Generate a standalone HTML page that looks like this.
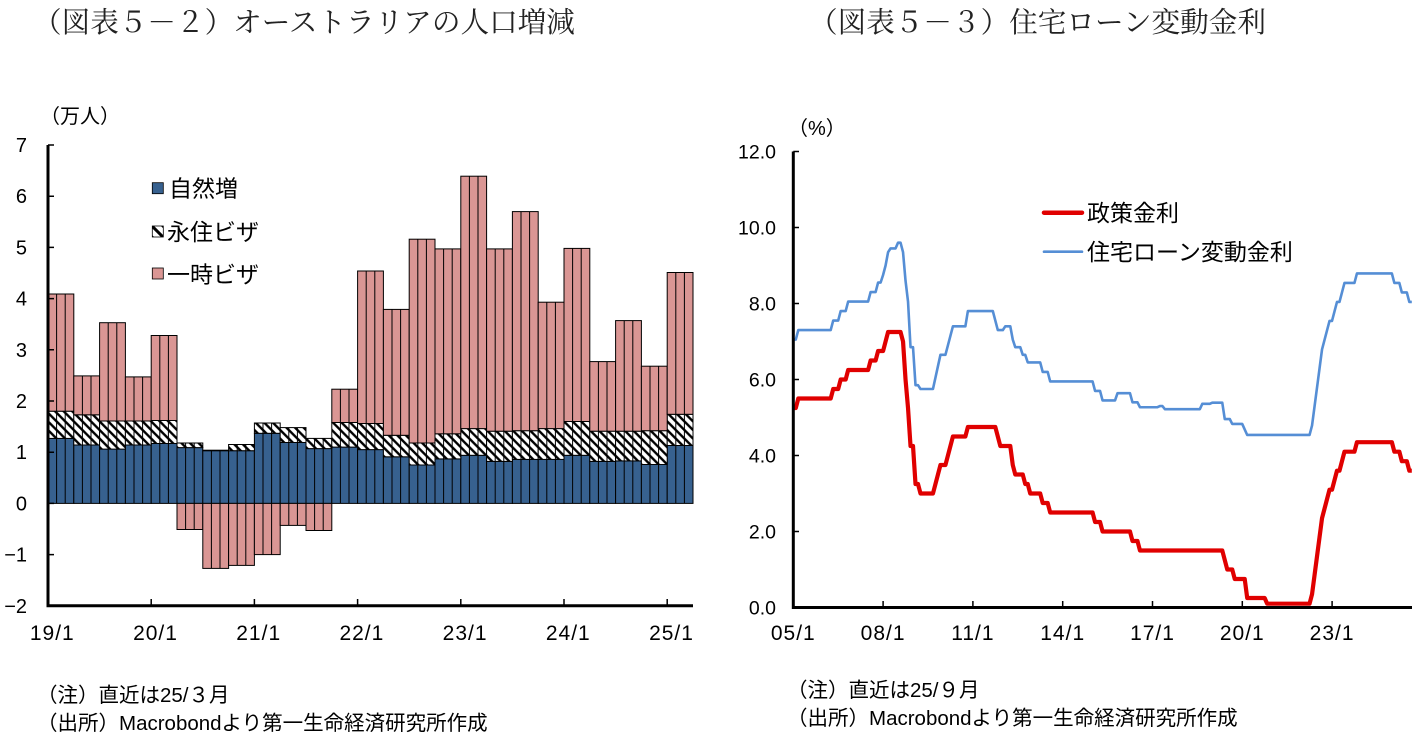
<!DOCTYPE html>
<html><head><meta charset="utf-8"><style>
html,body{margin:0;padding:0;background:#fff;}
svg{display:block;}
.jp{font-family:"Liberation Sans","Noto Sans CJK JP",sans-serif;}
.num{font-family:"Liberation Sans",sans-serif;}
.ttl{font-family:"Liberation Serif","Noto Serif CJK SC",serif;}
</style></head><body>
<svg width="1417" height="737" viewBox="0 0 1417 737" xmlns="http://www.w3.org/2000/svg">
<defs>
<pattern id="hatch" patternUnits="userSpaceOnUse" x="48" y="0" width="8.6" height="8.6">
<rect width="8.6" height="8.6" fill="#fff"/>
<path d="M-2,-2 L10.6,10.6 M-2,6.6 L2,10.6 M6.6,-2 L10.6,2" stroke="#000" stroke-width="2.4"/>
</pattern>
<pattern id="hatch2" patternUnits="userSpaceOnUse" x="152" y="226" width="11" height="11">
<rect width="11" height="11" fill="#fff"/>
<path d="M-2,-2 L13,13 M-2,9 L2,13 M9,-2 L13,2" stroke="#000" stroke-width="3"/>
</pattern>
</defs>

<!-- Titles -->
<text class="ttl" x="33" y="32" font-size="28.6" fill="#222">（図表５－２）オーストラリアの人口増減</text>
<text class="ttl" x="809" y="32" font-size="28.6" fill="#222">（図表５－３）住宅ローン変動金利</text>

<!-- LEFT CHART -->
<text class="jp" x="40" y="123" font-size="20" fill="#000">（万人）</text>

<g stroke="#000" stroke-width="1">
<g fill="#37618F">
<rect x="48" y="438.4" width="25.8" height="65.0"/>
<rect x="73.8" y="445.0" width="25.8" height="58.4"/>
<rect x="99.6" y="449.1" width="25.8" height="54.3"/>
<rect x="125.4" y="445.0" width="25.8" height="58.4"/>
<rect x="151.2" y="443.5" width="25.8" height="59.9"/>
<rect x="177" y="447.6" width="25.8" height="55.8"/>
<rect x="202.8" y="450.7" width="25.8" height="52.7"/>
<rect x="228.6" y="450.7" width="25.8" height="52.7"/>
<rect x="254.4" y="433.3" width="25.8" height="70.1"/>
<rect x="280.2" y="442.5" width="25.8" height="60.9"/>
<rect x="306" y="448.6" width="25.8" height="54.8"/>
<rect x="331.8" y="447.1" width="25.8" height="56.3"/>
<rect x="357.6" y="449.6" width="25.8" height="53.8"/>
<rect x="383.4" y="456.8" width="25.8" height="46.6"/>
<rect x="409.2" y="465.0" width="25.8" height="38.4"/>
<rect x="435" y="458.9" width="25.8" height="44.5"/>
<rect x="460.8" y="455.3" width="25.8" height="48.1"/>
<rect x="486.6" y="461.4" width="25.8" height="42.0"/>
<rect x="512.4" y="459.4" width="25.8" height="44.0"/>
<rect x="538.2" y="459.4" width="25.8" height="44.0"/>
<rect x="564" y="455.3" width="25.8" height="48.1"/>
<rect x="589.8" y="461.4" width="25.8" height="42.0"/>
<rect x="615.6" y="460.9" width="25.8" height="42.5"/>
<rect x="641.4" y="464.5" width="25.8" height="38.9"/>
<rect x="667.2" y="445.5" width="25.8" height="57.9"/>
</g>
<g fill="url(#hatch)">
<rect x="48" y="411.2" width="25.8" height="27.2"/>
<rect x="73.8" y="414.8" width="25.8" height="30.2"/>
<rect x="99.6" y="421.0" width="25.8" height="28.1"/>
<rect x="125.4" y="421.0" width="25.8" height="24.0"/>
<rect x="151.2" y="420.5" width="25.8" height="23.0"/>
<rect x="177" y="443.0" width="25.8" height="4.6"/>
<rect x="202.8" y="450.2" width="25.8" height="0.5"/>
<rect x="228.6" y="444.5" width="25.8" height="6.2"/>
<rect x="254.4" y="423.0" width="25.8" height="10.3"/>
<rect x="280.2" y="427.6" width="25.8" height="14.9"/>
<rect x="306" y="438.4" width="25.8" height="10.2"/>
<rect x="331.8" y="422.5" width="25.8" height="24.6"/>
<rect x="357.6" y="423.5" width="25.8" height="26.1"/>
<rect x="383.4" y="435.3" width="25.8" height="21.5"/>
<rect x="409.2" y="443.0" width="25.8" height="22.0"/>
<rect x="435" y="433.8" width="25.8" height="25.1"/>
<rect x="460.8" y="428.6" width="25.8" height="26.7"/>
<rect x="486.6" y="431.2" width="25.8" height="30.2"/>
<rect x="512.4" y="430.7" width="25.8" height="28.7"/>
<rect x="538.2" y="428.6" width="25.8" height="30.8"/>
<rect x="564" y="421.5" width="25.8" height="33.8"/>
<rect x="589.8" y="431.2" width="25.8" height="30.2"/>
<rect x="615.6" y="431.2" width="25.8" height="29.7"/>
<rect x="641.4" y="430.7" width="25.8" height="33.8"/>
<rect x="667.2" y="414.3" width="25.8" height="31.2"/>
</g>
<g fill="#DA9694">
<rect x="48" y="294.0" width="25.8" height="117.2"/>
<rect x="73.8" y="375.9" width="25.8" height="38.9"/>
<rect x="99.6" y="322.7" width="25.8" height="98.3"/>
<rect x="125.4" y="376.9" width="25.8" height="44.1"/>
<rect x="151.2" y="335.5" width="25.8" height="85.0"/>
<rect x="177" y="503.4" width="25.8" height="26.1"/>
<rect x="202.8" y="503.4" width="25.8" height="65.0"/>
<rect x="228.6" y="503.4" width="25.8" height="62.0"/>
<rect x="254.4" y="503.4" width="25.8" height="51.2"/>
<rect x="280.2" y="503.4" width="25.8" height="22.0"/>
<rect x="306" y="503.4" width="25.8" height="27.1"/>
<rect x="331.8" y="389.2" width="25.8" height="33.3"/>
<rect x="357.6" y="271.0" width="25.8" height="152.5"/>
<rect x="383.4" y="309.4" width="25.8" height="125.9"/>
<rect x="409.2" y="239.2" width="25.8" height="203.8"/>
<rect x="435" y="248.9" width="25.8" height="184.9"/>
<rect x="460.8" y="176.2" width="25.8" height="252.4"/>
<rect x="486.6" y="248.9" width="25.8" height="182.3"/>
<rect x="512.4" y="211.6" width="25.8" height="219.1"/>
<rect x="538.2" y="302.2" width="25.8" height="126.4"/>
<rect x="564" y="248.4" width="25.8" height="173.1"/>
<rect x="589.8" y="361.6" width="25.8" height="69.6"/>
<rect x="615.6" y="320.6" width="25.8" height="110.6"/>
<rect x="641.4" y="366.2" width="25.8" height="64.5"/>
<rect x="667.2" y="272.5" width="25.8" height="141.8"/>
</g>
<path fill="none" d="M56.6 294V503.4M65.2 294V503.4M82.4 375.9V503.4M91 375.9V503.4M108.2 322.7V503.4M116.8 322.7V503.4M134 376.9V503.4M142.6 376.9V503.4M159.8 335.5V503.4M168.4 335.5V503.4M185.6 443V529.5M194.2 443V529.5M211.4 450.2V568.4M220 450.2V568.4M237.2 444.5V565.4M245.8 444.5V565.4M263 423V554.6M271.6 423V554.6M288.8 427.6V525.4M297.4 427.6V525.4M314.6 438.4V530.5M323.2 438.4V530.5M340.4 389.2V503.4M349 389.2V503.4M366.2 271V503.4M374.8 271V503.4M392 309.4V503.4M400.6 309.4V503.4M417.8 239.2V503.4M426.4 239.2V503.4M443.6 248.9V503.4M452.2 248.9V503.4M469.4 176.2V503.4M478 176.2V503.4M495.2 248.9V503.4M503.8 248.9V503.4M521 211.6V503.4M529.6 211.6V503.4M546.8 302.2V503.4M555.4 302.2V503.4M572.6 248.4V503.4M581.2 248.4V503.4M598.4 361.6V503.4M607 361.6V503.4M624.2 320.6V503.4M632.8 320.6V503.4M650 366.2V503.4M658.6 366.2V503.4M675.8 272.5V503.4M684.4 272.5V503.4"/>
</g>

<g stroke="#000" fill="none">
<path d="M48 145V605.8H693" stroke-width="3"/>
<path stroke-width="1.5" d="M48 145H54M48 196.2H54M48 247.4H54M48 298.6H54M48 349.8H54M48 401H54M48 452.2H54M48 503.4H54M48 554.6H54M151.2 605.8V599M254.4 605.8V599M357.6 605.8V599M460.8 605.8V599M564 605.8V599M667.2 605.8V599"/>
</g>
<g class="num" font-size="20" fill="#000" text-anchor="end">
<text x="27" y="152">7</text>
<text x="27" y="203.2">6</text>
<text x="27" y="254.4">5</text>
<text x="27" y="305.6">4</text>
<text x="27" y="356.8">3</text>
<text x="27" y="408">2</text>
<text x="27" y="459.2">1</text>
<text x="27" y="510.4">0</text>
<text x="27" y="561.6">−1</text>
<text x="27" y="612.8">−2</text>
</g>
<g class="num" font-size="21" fill="#000" text-anchor="middle" letter-spacing="1">
<text x="52.3" y="640">19/1</text>
<text x="155.5" y="640">20/1</text>
<text x="258.7" y="640">21/1</text>
<text x="361.9" y="640">22/1</text>
<text x="465.1" y="640">23/1</text>
<text x="568.3" y="640">24/1</text>
<text x="671.5" y="640">25/1</text>
</g>

<rect x="152.3" y="182.7" width="11" height="11" fill="#37618F" stroke="#000" stroke-width="0.8"/>
<rect x="152.3" y="226" width="11" height="11" fill="url(#hatch2)" stroke="#000" stroke-width="0.8"/>
<rect x="152.3" y="268" width="11" height="11" fill="#DA9694" stroke="#000" stroke-width="0.8"/>
<g class="jp" font-size="23" fill="#000">
<text x="169" y="196.5">自然増</text>
<text x="167" y="240">永住ビザ</text>
<text x="167" y="282.5">一時ビザ</text>
</g>

<g class="jp" font-size="20.5" fill="#000">
<text x="37" y="702">（注）直近は25/３月</text>
<text x="37" y="730">（出所）Macrobondより第一生命経済研究所作成</text>
</g>

<!-- RIGHT CHART -->
<text class="jp" x="788" y="135" font-size="20" fill="#000">（%）</text>
<g class="num" font-size="19.5" fill="#000" text-anchor="end">
<text x="776" y="158.5">12.0</text>
<text x="776" y="234.5">10.0</text>
<text x="776" y="310.5">8.0</text>
<text x="776" y="386.5">6.0</text>
<text x="776" y="462.5">4.0</text>
<text x="776" y="538.5">2.0</text>
<text x="776" y="614.5">0.0</text>
</g>
<g class="num" font-size="21" fill="#000" text-anchor="middle" letter-spacing="1">
<text x="793.3" y="640">05/1</text>
<text x="883.1" y="640">08/1</text>
<text x="972.9" y="640">11/1</text>
<text x="1062.7" y="640">14/1</text>
<text x="1152.5" y="640">17/1</text>
<text x="1242.3" y="640">20/1</text>
<text x="1332.1" y="640">23/1</text>
</g>

<g transform="translate(793.3 607.5) scale(2.494 -38)" fill="none" stroke-linejoin="round">
<polyline vector-effect="non-scaling-stroke" stroke="#558ED5" stroke-width="2.6" points="0,7.05 1,7.05 2,7.3 15,7.3 16,7.55 18,7.55 19,7.8 21,7.8 22,8.05 30,8.05 31,8.3 33,8.3 34,8.55 35,8.55 36,8.75 37,9.0 38,9.35 39,9.45 41,9.45 42,9.6 43,9.6 44,9.35 45,8.6 46,8.05 47,6.85 48,6.85 49,5.85 50,5.85 51,5.75 55,5.75 56,5.75 57,6.05 58,6.35 59,6.65 61,6.65 62,6.9 63,7.15 64,7.4 69,7.4 70,7.8 80,7.8 81,7.55 82,7.3 84,7.3 85,7.4 87,7.4 88,7.05 89,6.85 91,6.85 92,6.65 93,6.65 94,6.45 99,6.45 100,6.2 102,6.2 103,5.95 120,5.95 121,5.7 123,5.7 124,5.45 129,5.45 130,5.64 135,5.64 136,5.4 138,5.4 139,5.27 146,5.27 147,5.3 148,5.3 149,5.22 163,5.22 164,5.36 167,5.36 168,5.39 172,5.39 173,4.96 175,4.96 176,4.83 180,4.83 182,4.54 207,4.54 208,4.79 209,5.29 210,5.79 211,6.29 212,6.79 213,7.04 214,7.29 215,7.54 216,7.54 217,7.79 218,8.04 219,8.04 220,8.29 221,8.54 225,8.54 226,8.79 240,8.79 241,8.54 243,8.54 244,8.29 246,8.29 247,8.04 248,8.04"/>
<polyline vector-effect="non-scaling-stroke" stroke="#E00000" stroke-width="4.2" points="0,5.25 1,5.25 2,5.5 15,5.5 16,5.75 18,5.75 19,6 21,6 22,6.25 30,6.25 31,6.5 33,6.5 34,6.75 36,6.75 37,7 38,7.25 43,7.25 44,7 45,6 46,5.25 47,4.25 48,4.25 49,3.25 50,3.25 51,3 56,3 57,3.25 58,3.5 59,3.75 61,3.75 62,4 63,4.25 64,4.5 69,4.5 70,4.75 81,4.75 82,4.5 83,4.25 87,4.25 88,3.75 89,3.5 92,3.5 93,3.25 94,3.25 95,3 99,3 100,2.75 102,2.75 103,2.5 120,2.5 121,2.25 123,2.25 124,2 135,2 136,1.75 138,1.75 139,1.5 172,1.5 173,1.25 174,1 176,1 177,0.75 181,0.75 182,0.25 189,0.25 190,0.1 207,0.1 208,0.35 209,0.85 210,1.35 211,1.85 212,2.35 213,2.6 214,2.85 215,3.1 216,3.1 217,3.35 218,3.6 219,3.6 220,3.85 221,4.1 225,4.1 226,4.35 240,4.35 241,4.1 243,4.1 244,3.85 246,3.85 247,3.6 248,3.6"/>
</g>

<g stroke="#000" fill="none">
<path d="M793.3 151.5V607.5H1412" stroke-width="3"/>
<path stroke-width="1.5" d="M793.3 151.5H799M793.3 227.5H799M793.3 303.5H799M793.3 379.5H799M793.3 455.5H799M793.3 531.5H799M883.1 607.5V601M972.9 607.5V601M1062.7 607.5V601M1152.5 607.5V601M1242.3 607.5V601M1332.1 607.5V601"/>
</g>

<line x1="1044" y1="212.7" x2="1082" y2="212.7" stroke="#E00000" stroke-width="4.5" stroke-linecap="round"/>
<line x1="1044" y1="251.7" x2="1082" y2="251.7" stroke="#558ED5" stroke-width="2.6" stroke-linecap="round"/>
<g class="jp" font-size="23" fill="#000">
<text x="1087" y="221">政策金利</text>
<text x="1087" y="260">住宅ローン変動金利</text>
</g>

<g class="jp" font-size="20.5" fill="#000">
<text x="787" y="697">（注）直近は25/９月</text>
<text x="787" y="725">（出所）Macrobondより第一生命経済研究所作成</text>
</g>
</svg>
</body></html>
